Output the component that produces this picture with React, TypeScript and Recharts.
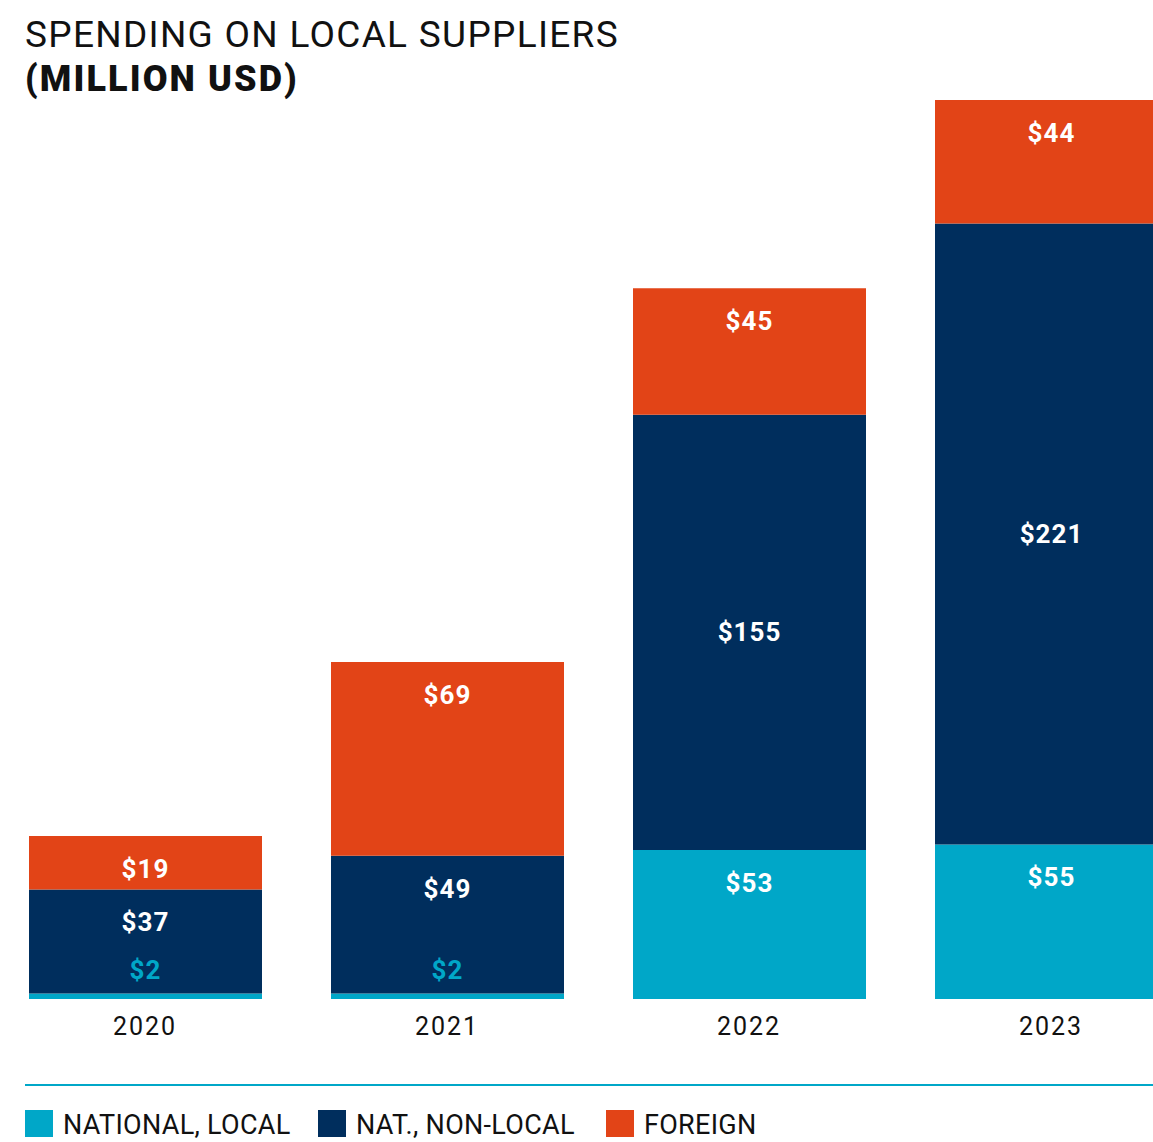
import React from 'react';
import { BarChart, Bar, XAxis, YAxis, LabelList } from 'recharts';

const years = ['2020', '2021', '2022', '2023'];
const nationalLocal = [2, 2, 53, 55];
const nationalNonLocal = [37, 49, 155, 221];
const foreign = [19, 69, 45, 44];

const seriesKeys = ['local', 'nonLocal', 'foreign'];
const seriesNames = ['NATIONAL, LOCAL', 'NAT., NON-LOCAL', 'FOREIGN'];
const seriesColors = ['#00a7c8', '#002e5d', '#e24417'];

const data = years.map((year, i) => ({
  year,
  local: nationalLocal[i],
  nonLocal: nationalNonLocal[i],
  foreign: foreign[i],
}));

const FONT = 'Roboto, "Noto Sans", sans-serif';

// value label: near the top of the segment, centred when the segment is tall,
// and above the segment (in cyan) when it is too thin to hold text
const valueLabel = (props: any) => {
  const { x, y, width, height, value } = props;
  const cx = x + width / 2;
  let cy = y + 33;
  let fill = '#ffffff';
  if (height < 20) {
    cy = y - 23;
    fill = seriesColors[0];
  } else if (height > 300) {
    cy = y + height / 2;
  }
  return (
    <text
      x={cx}
      y={cy}
      textAnchor="middle"
      dominantBaseline="central"
      fill={fill}
      fontFamily={FONT}
      fontWeight={700}
      fontSize={26}
      letterSpacing={1}
    >
      {`$${value}`}
    </text>
  );
};

export default function App() {
  return (
    <div
      style={{
        position: 'relative',
        width: 1153,
        height: 1142,
        overflow: 'hidden',
        background: '#ffffff',
        fontFamily: FONT,
      }}
    >
      <style>{'html,body{margin:0;padding:0;overflow:hidden;}'}</style>
      <div style={{ position: 'absolute', left: 25, top: 11, color: '#111', lineHeight: 1.3 }}>
        <div style={{ fontSize: 37, fontWeight: 400, letterSpacing: 1.3 }}>
          SPENDING ON LOCAL SUPPLIERS
        </div>
        <div style={{ fontSize: 36, fontWeight: 900, letterSpacing: 2.1, marginTop: -3 }}>
          (MILLION USD)
        </div>
      </div>

      <div style={{ position: 'absolute', left: -6, top: 0 }}>
        <BarChart
          width={1208}
          height={1045}
          data={data}
          margin={{ top: 100, right: 0, bottom: 0, left: 0 }}
          barSize={233}
        >
          <XAxis
            dataKey="year"
            axisLine={false}
            tickLine={false}
            tickSize={0}
            tickMargin={18}
            height={46}
            interval={0}
            tick={{ fill: '#111', fontSize: 25, fontFamily: FONT, letterSpacing: 2 }}
          />
          <YAxis hide domain={[0, 320]} />
          {seriesKeys.map((key, i) => (
            <Bar
              key={key}
              dataKey={key}
              name={seriesNames[i]}
              stackId="total"
              fill={seriesColors[i]}
              isAnimationActive={false}
            >
              <LabelList dataKey={key} content={valueLabel} />
            </Bar>
          ))}
        </BarChart>
      </div>

      <div
        style={{
          position: 'absolute',
          left: 25,
          top: 1084,
          width: 1140,
          height: 2,
          background: seriesColors[0],
        }}
      />
      <div style={{ position: 'absolute', left: 25, top: 1110, display: 'flex' }}>
        {seriesNames.map((name, i) => (
          <div
            key={name}
            style={{ display: 'flex', alignItems: 'center', width: [293, 288, 200][i] }}
          >
            <div style={{ width: 28, height: 27, background: seriesColors[i], flexShrink: 0 }} />
            <span
              style={{
                marginLeft: 10,
                fontSize: 27,
                letterSpacing: 0.3,
                color: '#111',
                lineHeight: '27px',
                whiteSpace: 'nowrap',
                position: 'relative',
                top: 2,
              }}
            >
              {name}
            </span>
          </div>
        ))}
      </div>
    </div>
  );
}
